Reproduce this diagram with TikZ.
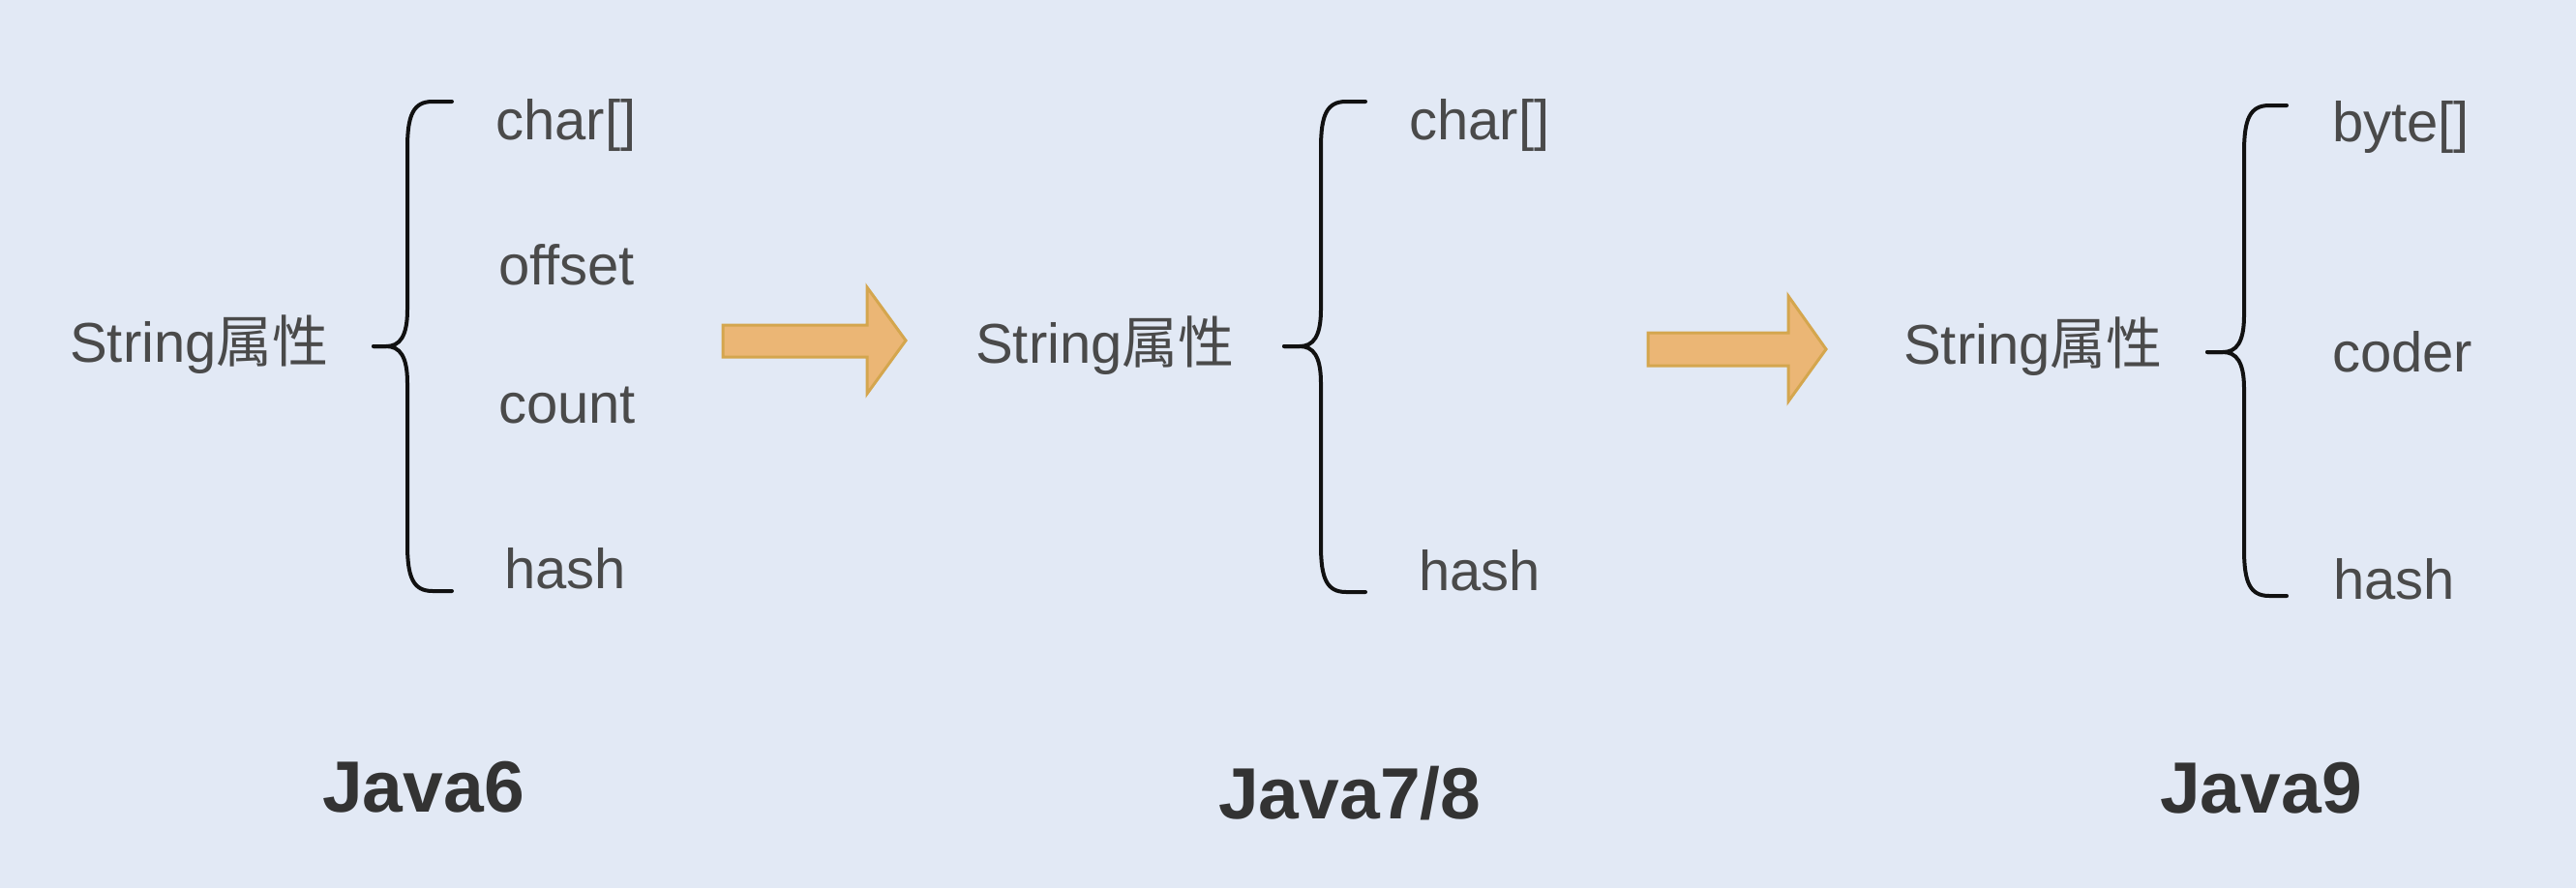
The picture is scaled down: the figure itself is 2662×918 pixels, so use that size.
\documentclass[tikz,border=0pt]{standalone}
\usepackage{fontspec}
\setmainfont{Liberation Sans}
\newfontfamily\cjk{Noto Sans CJK SC}
\definecolor{bgc}{HTML}{E2E9F5}
\definecolor{txtc}{HTML}{4A4A4A}
\definecolor{ttlc}{HTML}{333333}
\definecolor{arrfill}{HTML}{EBB675}
\definecolor{arrdraw}{HTML}{D4A64E}
\definecolor{bracec}{HTML}{111111}
\newcommand{\mybrace}[6]{%
  \draw[bracestyle] (#5,#2) -- (#1+26,#2) .. controls (#1+6,#2) and (#1,#2+14) .. (#1,#2+48)
     -- (#1,#3-38) .. controls (#1,#3-10) and (#1-8,#3) .. (#1-22,#3) -- (#6,#3);
  \draw[bracestyle] (#6,#3) -- (#1-22,#3) .. controls (#1-8,#3) and (#1,#3+10) .. (#1,#3+38)
     -- (#1,#4-48) .. controls (#1,#4-14) and (#1+6,#4) .. (#1+26,#4) -- (#5,#4);
}
\begin{document}
\begin{tikzpicture}[x=1pt,y=-1pt,
  lbl/.style={inner sep=0pt, anchor=base west, text=txtc, font=\fontsize{58}{70}\selectfont},
  ttl/.style={inner sep=0pt, anchor=base west, text=ttlc, font=\fontsize{75}{90}\selectfont\bfseries},
  bracestyle/.style={draw=bracec, line width=4pt, line cap=round, line join=round},
  blockarrow/.style={fill=arrfill, draw=arrdraw, line width=3pt, line join=miter}]
\fill[bgc] (0,0) rectangle (2662,918);
\useasboundingbox (0,0) rectangle (2662,918);

% group 1 (Java6)
\node[lbl] (s1) at (72,374) {String{\cjk 属性}};
\mybrace{421}{105}{358}{611}{467}{386}
\node[lbl] (a1) at (512,144) {char[]};
\node[lbl] (b1) at (515,294) {offset};
\node[lbl] (c1) at (515,437) {count};
\node[lbl] (d1) at (521,608) {hash};
\node[ttl] (t1) at (333,839) {Java6};

% arrow 1
\draw[blockarrow] (747,336) -- (896,336) -- (896,297) -- (936,352) -- (896,407) -- (896,369) -- (747,369) -- cycle;

% group 2 (Java7/8)
\node[lbl] (s2) at (1008,375) {String{\cjk 属性}};
\mybrace{1365}{105}{358}{612}{1411}{1327}
\node[lbl] (a2) at (1456,144) {char[]};
\node[lbl] (d2) at (1466,610) {hash};
\node[ttl] (t2) at (1259,846) {Java7/8};

% arrow 2
\draw[blockarrow] (1703,344) -- (1848,344) -- (1848,306) -- (1887,361) -- (1848,415) -- (1848,378) -- (1703,378) -- cycle;

% group 3 (Java9)
\node[lbl] (s3) at (1967,376) {String{\cjk 属性}};
\mybrace{2319}{109}{364}{616}{2363}{2281}
\node[lbl] (a3) at (2410,146) {byte[]};
\node[lbl] (b3) at (2410,384) {coder};
\node[lbl] (d3) at (2411,619) {hash};
\node[ttl] (t3) at (2232,840) {Java9};
\end{tikzpicture}
\end{document}
